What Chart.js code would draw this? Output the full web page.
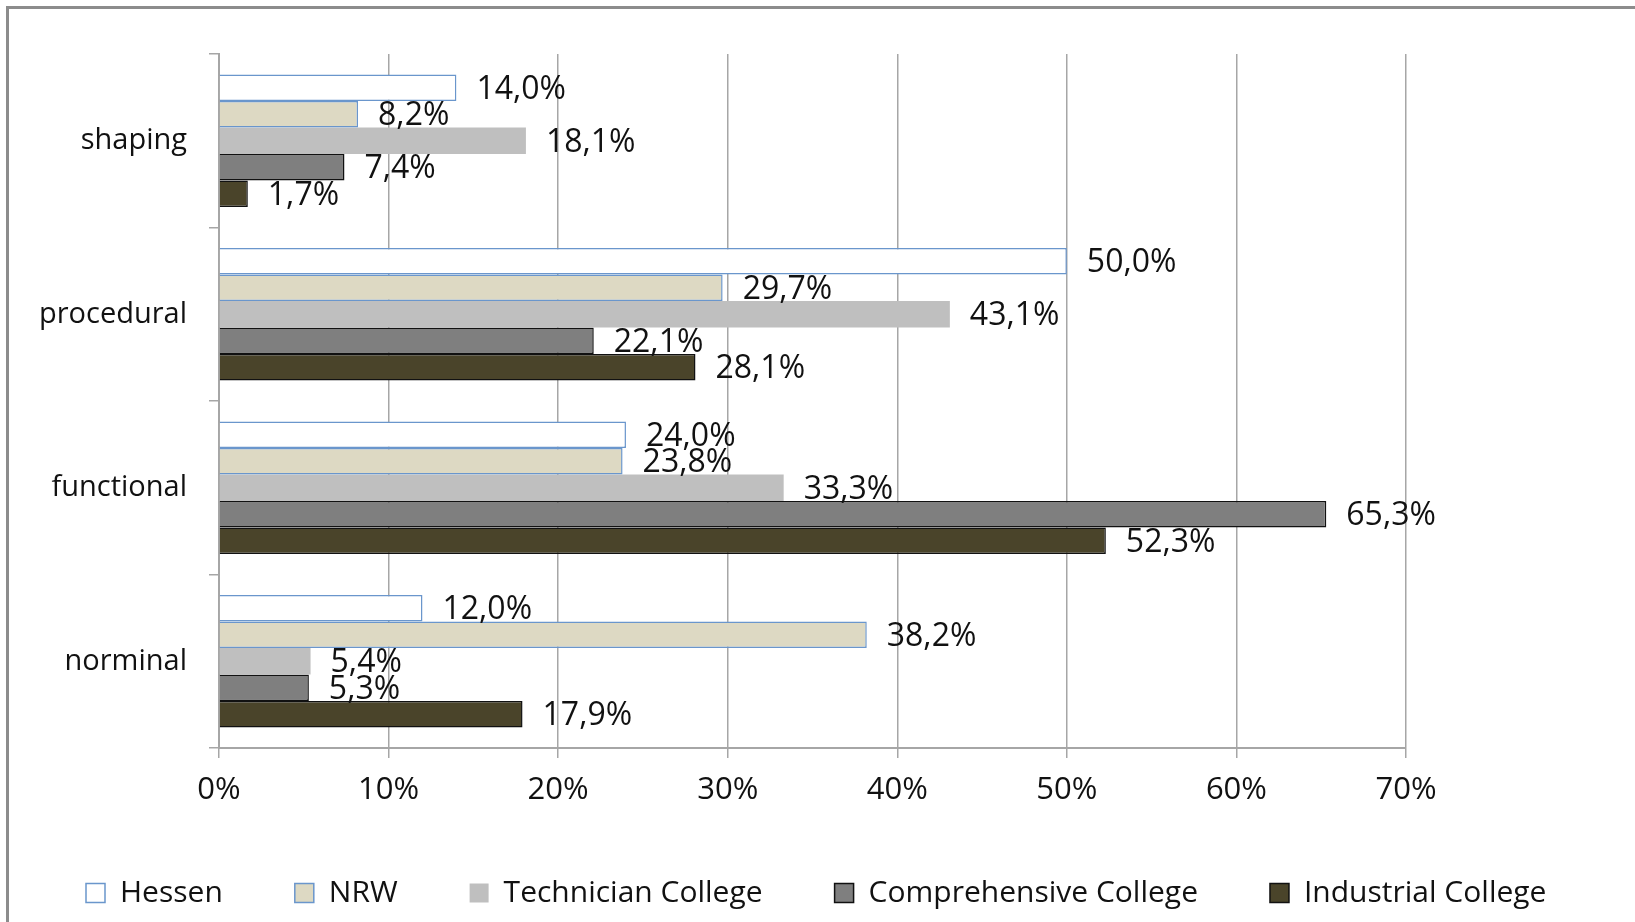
<!DOCTYPE html>
<html>
<head>
<meta charset="utf-8">
<script src="https://cdn.jsdelivr.net/npm/chart.js@4/dist/chart.umd.min.js"></script>
<style>
  html, body { margin: 0; padding: 0; background: #fff; }
  #wrap { position: relative; width: 1635px; height: 922px; overflow: hidden; }
  #frame { position: absolute; left: 6px; top: 6px; width: 1700px; height: 1000px;
           border-left: 3px solid #8c8c8c; border-top: 3px solid #8c8c8c; pointer-events: none; }
  canvas { position: absolute; left: 0; top: 0; }
</style>
</head>
<body>
<div id="wrap">
  <canvas id="chart" width="1635" height="922"></canvas>
  <div id="frame"></div>
</div>
<script>
const categories = ['shaping', 'procedural', 'functional', 'norminal'];
const hessen = [14.0, 50.0, 24.0, 12.0];
const nrw = [8.2, 29.7, 23.8, 38.2];
const technician = [18.1, 43.1, 33.3, 5.4];
const comprehensive = [7.4, 22.1, 65.3, 5.3];
const industrial = [1.7, 28.1, 52.3, 17.9];
const xTicks = [0, 10, 20, 30, 40, 50, 60, 70];

const FONT = "'Open Sans', sans-serif";
const gridGray = '#a6a6a6';

// draws "14,0%" style labels right of each bar
const barLabels = {
  id: 'barLabels',
  afterDatasetsDraw(chart) {
    const ctx = chart.ctx;
    ctx.save();
    ctx.font = '32px ' + FONT;
    ctx.fillStyle = '#111';
    ctx.textAlign = 'left';
    ctx.textBaseline = 'middle';
    chart.data.datasets.forEach((ds, i) => {
      const meta = chart.getDatasetMeta(i);
      meta.data.forEach((bar, j) => {
        const txt = ds.data[j].toFixed(1).replace('.', ',') + '%';
        ctx.fillText(txt, bar.x + 20, bar.y + 2);
      });
    });
    ctx.restore();
  }
};

new Chart(document.getElementById('chart'), {
  type: 'bar',
  data: {
    labels: categories,
    datasets: [
      { label: 'Hessen', data: hessen, backgroundColor: '#ffffff', borderColor: '#6a96cc', borderWidth: 1.5 },
      { label: 'NRW', data: nrw, backgroundColor: '#ddd9c3', borderColor: '#6a96cc', borderWidth: 1.5 },
      { label: 'Technician College', data: technician, backgroundColor: '#bfbfbf', borderColor: '#bfbfbf', borderWidth: 0 },
      { label: 'Comprehensive College', data: comprehensive, backgroundColor: '#7f7f7f', borderColor: '#111111', borderWidth: 1.5 },
      { label: 'Industrial College', data: industrial, backgroundColor: '#4a442a', borderColor: '#111111', borderWidth: 1.5 }
    ]
  },
  options: {
    indexAxis: 'y',
    responsive: false,
    animation: false,
    devicePixelRatio: 1,
    categoryPercentage: 0.765,
    barPercentage: 1.0,
    layout: { padding: { top: 54, left: 14, right: 0, bottom: 4 } },
    plugins: {
      tooltip: { enabled: false },
      legend: {
        position: 'bottom',
        align: 'start',
        labels: {
          font: { family: FONT, size: 30 },
          color: '#111',
          boxWidth: 19,
          boxHeight: 19,
          padding: 72
        }
      }
    },
    scales: {
      x: {
        min: 0,
        max: 70,
        afterBuildTicks(scale) {
          scale.ticks = xTicks.map(v => ({ value: v }));
        },
        afterFit(scale) { scale.height = 58; },
        grid: { color: gridGray, lineWidth: 1.5, tickLength: 10 },
        border: { color: gridGray, width: 2 },
        ticks: {
          padding: 14,
          color: '#111',
          font: { family: FONT, size: 31 },
          callback: v => v + '%'
        }
      },
      y: {
        afterFit(scale) { scale.width = 205; },
        grid: { offset: true, drawOnChartArea: false, color: gridGray, lineWidth: 1.5, tickLength: 10 },
        border: { color: gridGray, width: 2 },
        ticks: {
          padding: 22,
          color: '#111',
          font: { family: FONT, size: 29 }
        }
      },
      yRight: {
        type: 'category',
        position: 'right',
        afterFit(scale) { scale.width = 229; },
        grid: { display: false },
        border: { display: false },
        ticks: { display: false }
      }
    }
  },
  plugins: [barLabels]
});
</script>
</body>
</html>
